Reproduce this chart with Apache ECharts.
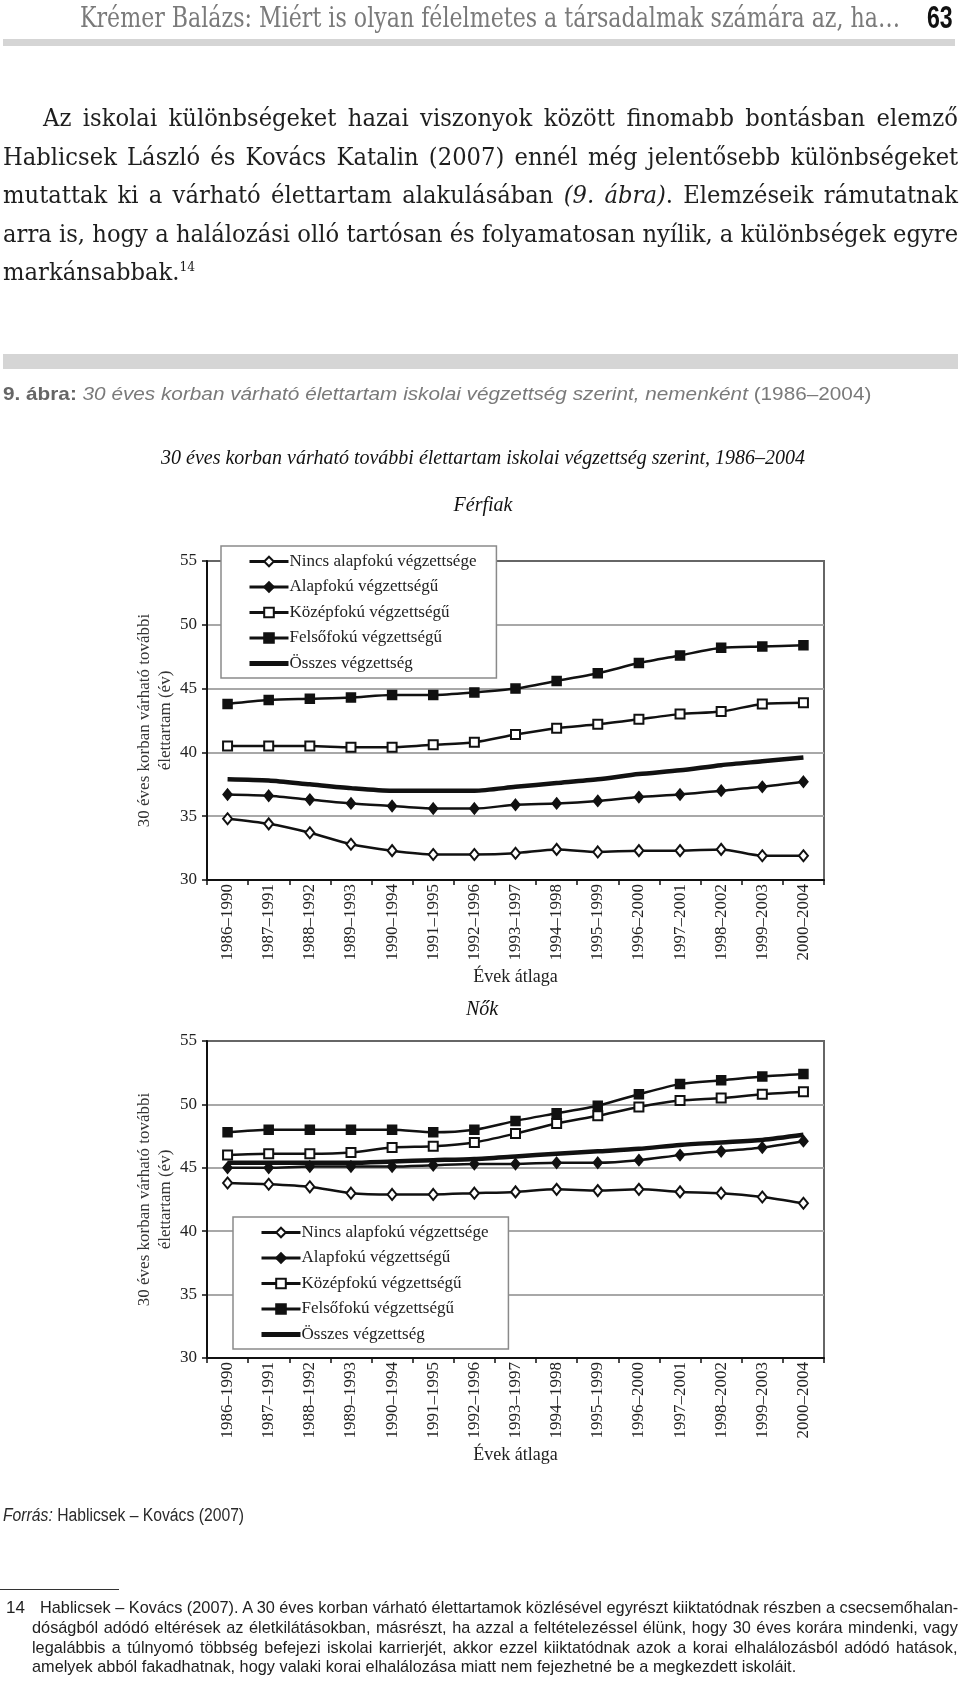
<!DOCTYPE html>
<html>
<head>
<meta charset="utf-8">
<script src="https://cdn.jsdelivr.net/npm/echarts@6/dist/echarts.min.js"></script>
<style>
  html, body { margin: 0; padding: 0; background: #fff; }
  #page { position: relative; width: 960px; height: 1681px; overflow: hidden; }
  #chart { position: absolute; left: 0; top: 0; width: 960px; height: 1681px; }
  .t { position: absolute; white-space: nowrap; display: inline-block; transform-origin: 0 50%; z-index: 2; }
  .bar { position: absolute; background: #d5d5d5; z-index: 2; }
  .par { font-family: 'DejaVu Serif'; font-size: 24px; line-height: 29px; color: #1e1e1e; }
  .fn { font-family: 'Liberation Sans Narrow', 'Liberation Sans'; font-size: 17px; line-height: 19px; color: #1e1e1e; }
</style>
</head>
<body>
<div id="page">
  <div id="chart"></div>

  <div class="t" id="hdr" style="left:80px;top:1px;font-family:'DejaVu Serif';font-size:28px;line-height:33px;color:#7a7a7a">Krémer Balázs: Miért is olyan félelmetes a társadalmak számára az, ha…</div>
  <div class="t" id="pg" style="left:927px;top:1px;font-family:'Liberation Sans Narrow','Liberation Sans';font-weight:bold;font-size:32px;line-height:33px;color:#111">63</div>
  <div class="bar" style="left:3px;top:39px;width:952px;height:7px"></div>

  <div class="t par" id="p1" style="left:43px;top:104px">Az iskolai különbségeket hazai viszonyok között finomabb bontásban elemző</div>
  <div class="t par" id="p2" style="left:3px;top:143px">Hablicsek László és Kovács Katalin (2007) ennél még jelentősebb különbségeket</div>
  <div class="t par" id="p3" style="left:3px;top:181px">mutattak ki a várható élettartam alakulásában <i>(9. ábra)</i>. Elemzéseik rámutatnak</div>
  <div class="t par" id="p4" style="left:3px;top:220px">arra is, hogy a halálozási olló tartósan és folyamatosan nyílik, a különbségek egyre</div>
  <div class="t par" id="p5" style="left:3px;top:258px">markánsabbak.<sup style="font-size:13px;line-height:0">14</sup></div>

  <div class="bar" style="left:3px;top:354px;width:955px;height:15px"></div>
  <div class="t" id="cap" style="left:3px;top:382px;font-family:'Liberation Sans Narrow','Liberation Sans';font-size:19px;line-height:23px;color:#7a7a7a"><b style="color:#666">9. ábra:</b> <i>30 éves korban várható élettartam iskolai végzettség szerint, nemenként</i> (1986–2004)</div>

  <div class="t" id="src" style="left:3px;top:1505px;font-family:'Liberation Sans Narrow','Liberation Sans';font-size:18px;line-height:21px;color:#2a2a2a"><i>Forrás:</i> Hablicsek – Kovács (2007)</div>

  <div style="position:absolute;left:0;top:1589px;width:119px;height:1px;background:#333"></div>
  <div class="t fn" style="left:6px;top:1598px">14</div>
  <div class="t fn" id="f1" style="left:40px;top:1598px">Hablicsek – Kovács (2007). A 30 éves korban várható élettartamok közlésével egyrészt kiiktatódnak részben a csecsemőhalan-</div>
  <div class="t fn" id="f2" style="left:32px;top:1618px">dóságból adódó eltérések az életkilátásokban, másrészt, ha azzal a feltételezéssel élünk, hogy 30 éves korára mindenki, vagy</div>
  <div class="t fn" id="f3" style="left:32px;top:1638px">legalábbis a túlnyomó többség befejezi iskolai karrierjét, akkor ezzel kiiktatódnak azok a korai elhalálozásból adódó hatások,</div>
  <div class="t fn" id="f4" style="left:32px;top:1657px">amelyek abból fakadhatnak, hogy valaki korai elhalálozása miatt nem fejezhetné be a megkezdett iskoláit.</div>
</div>

<script>
// kategóriák (évek átlaga)
var years = ['1986–1990', '1987–1991', '1988–1992', '1989–1993', '1990–1994',
  '1991–1995', '1992–1996', '1993–1997', '1994–1998', '1995–1999',
  '1996–2000', '1997–2001', '1998–2002', '1999–2003', '2000–2004'];

var seriesNames = ['Nincs alapfokú végzettsége', 'Alapfokú végzettségű',
  'Középfokú végzettségű', 'Felsőfokú végzettségű', 'Összes végzettség'];

// Férfiak
var ferfiNincs = [34.8, 34.4, 33.7, 32.8, 32.3, 32.0, 32.0, 32.1, 32.4, 32.2, 32.3, 32.3, 32.4, 31.9, 31.9];
var ferfiAlap = [36.7, 36.6, 36.3, 36.0, 35.8, 35.6, 35.6, 35.9, 36.0, 36.2, 36.5, 36.7, 37.0, 37.3, 37.7];
var ferfiKozep = [40.5, 40.5, 40.5, 40.4, 40.4, 40.6, 40.8, 41.4, 41.9, 42.2, 42.6, 43.0, 43.2, 43.8, 43.9];
var ferfiFelso = [43.8, 44.1, 44.2, 44.3, 44.5, 44.5, 44.7, 45.0, 45.6, 46.2, 47.0, 47.6, 48.2, 48.3, 48.4];
var ferfiOsszes = [37.9, 37.8, 37.5, 37.2, 37.0, 37.0, 37.0, 37.3, 37.6, 37.9, 38.3, 38.6, 39.0, 39.3, 39.6];

// Nők
var noNincs = [43.8, 43.7, 43.5, 43.0, 42.9, 42.9, 43.0, 43.1, 43.3, 43.2, 43.3, 43.1, 43.0, 42.7, 42.2];
var noAlap = [45.0, 45.0, 45.1, 45.1, 45.1, 45.2, 45.3, 45.3, 45.4, 45.4, 45.6, 46.0, 46.3, 46.6, 47.1];
var noKozep = [46.0, 46.1, 46.1, 46.2, 46.6, 46.7, 47.0, 47.7, 48.5, 49.1, 49.8, 50.3, 50.5, 50.8, 51.0];
var noFelso = [47.8, 48.0, 48.0, 48.0, 48.0, 47.8, 48.0, 48.7, 49.3, 49.9, 50.8, 51.6, 51.9, 52.2, 52.4];
var noOsszes = [45.4, 45.4, 45.4, 45.4, 45.5, 45.6, 45.7, 45.9, 46.1, 46.3, 46.5, 46.8, 47.0, 47.2, 47.6];

var yTicks = { min: 30, max: 55, interval: 5 };

var serif = 'Liberation Serif';
var ink = '#111';

// szövegsorok illesztése (sorkizárt)
function fitGroup(items) {
  var s = 1;
  items.forEach(function (o) {
    if (o.justify) s = Math.min(s, o.width / o.el.offsetWidth);
  });
  items.forEach(function (o) {
    var w = o.el.offsetWidth * s;
    var n = (o.el.textContent.match(/ /g) || []).length;
    if (o.justify && n) o.el.style.wordSpacing = ((o.width - w) / s / n) + 'px';
    o.el.style.transform = 'scaleX(' + s + ')';
  });
}
function fitExact(id, width) {
  var el = document.getElementById(id);
  el.style.transform = 'scaleX(' + (width / el.offsetWidth) + ')';
}

fitGroup([
  { el: document.getElementById('p1'), width: 915, justify: true },
  { el: document.getElementById('p2'), width: 955, justify: true },
  { el: document.getElementById('p3'), width: 955, justify: true },
  { el: document.getElementById('p4'), width: 955, justify: true },
  { el: document.getElementById('p5'), width: 0, justify: false }
]);
fitGroup([
  { el: document.getElementById('f1'), width: 918, justify: true },
  { el: document.getElementById('f2'), width: 926, justify: true },
  { el: document.getElementById('f3'), width: 926, justify: true },
  { el: document.getElementById('f4'), width: 0, justify: false }
]);
fitExact('hdr', 820);
fitExact('pg', 26);
fitExact('cap', 868);
fitExact('src', 241);

function makeSeries(idx, arrs) {
  var symbols = ['emptyDiamond', 'diamond', 'emptyRect', 'rect', 'none'];
  var sizes = [[9, 11], [9, 11], 9, 9, 0];
  return arrs.map(function (data, i) {
    return {
      name: seriesNames[i],
      type: 'line',
      xAxisIndex: idx,
      yAxisIndex: idx,
      data: data,
      smooth: 0.25,
      symbol: symbols[i],
      symbolSize: sizes[i],
      showSymbol: i < 4,
      color: ink,
      itemStyle: { color: ink, borderColor: ink, borderWidth: 1.5 },
      lineStyle: { color: ink, width: i === 4 ? 4.5 : 2.5 },
      emphasis: { disabled: true },
      z: i === 4 ? 2 : 3
    };
  });
}

function xAxis(idx) {
  return {
    type: 'category',
    gridIndex: idx,
    data: years,
    boundaryGap: true,
    axisLine: { show: true, lineStyle: { color: ink, width: 2 } },
    axisTick: { show: true, length: 5, lineStyle: { color: ink, width: 1.5 } },
    axisLabel: { rotate: 90, interval: 0, margin: 4, fontFamily: serif, fontSize: 17, color: '#222' },
    name: 'Évek átlaga',
    nameLocation: 'middle',
    nameGap: 88,
    nameTextStyle: { fontFamily: serif, fontSize: 18, color: '#222' },
    splitLine: { show: false }
  };
}

function yAxis(idx) {
  return {
    type: 'value',
    gridIndex: idx,
    min: yTicks.min,
    max: yTicks.max,
    interval: yTicks.interval,
    axisLine: { show: true, lineStyle: { color: ink, width: 2 } },
    axisTick: { show: true, length: 5, lineStyle: { color: ink, width: 1.5 } },
    axisLabel: { margin: 10, fontFamily: serif, fontSize: 17, color: '#222' },
    splitLine: { show: true, showMinLine: false, showMaxLine: false, lineStyle: { color: '#a8a8a8', width: 2 } },
    name: '30 éves korban várható további\nélettartam (év)',
    nameLocation: 'middle',
    nameRotate: 90,
    nameGap: 31,
    nameMoveOverlap: false,
    nameTextStyle: { fontFamily: serif, fontSize: 17, lineHeight: 21, color: '#333' }
  };
}

// az "Összes" sor jelén nincs jelölő, csak vastag vonal
var legendData = seriesNames.map(function (n, i) {
  return i === 4 ? { name: n, itemStyle: { opacity: 0 }, lineStyle: { width: 5 } } : n;
});

function legend(left, top) {
  return {
    orient: 'vertical',
    left: left,
    top: top,
    data: legendData,
    itemWidth: 39,
    itemHeight: 12,
    itemGap: 8.5,
    padding: [7, 20, 6, 26],
    backgroundColor: '#fff',
    borderColor: '#8a8a8a',
    borderWidth: 1.5,
    borderRadius: 0,
    selectedMode: false,
    lineStyle: { width: 3 },
    textStyle: { fontFamily: serif, fontSize: 17, color: '#222', padding: [0, 0, 0, -4] },
    z: 10
  };
}

var chart = echarts.init(document.getElementById('chart'), null, { renderer: 'canvas' });

chart.setOption({
  animation: false,
  backgroundColor: 'transparent',
  graphic: [
    {
      type: 'text', x: 483, y: 459,
      style: {
        text: '30 éves korban várható további élettartam iskolai végzettség szerint, 1986–2004',
        font: 'italic 20px "Liberation Serif"', fill: '#111', align: 'center', verticalAlign: 'middle'
      }
    },
    {
      type: 'text', x: 483, y: 506,
      style: { text: 'Férfiak', font: 'italic 20px "Liberation Serif"', fill: '#111', align: 'center', verticalAlign: 'middle' }
    },
    {
      type: 'text', x: 482, y: 1010,
      style: { text: 'Nők', font: 'italic 20px "Liberation Serif"', fill: '#111', align: 'center', verticalAlign: 'middle' }
    }
  ],
  grid: [
    { left: 207, top: 561, width: 617, height: 319, show: true, borderColor: '#666', borderWidth: 2, backgroundColor: 'transparent' },
    { left: 207, top: 1041, width: 617, height: 317, show: true, borderColor: '#666', borderWidth: 2, backgroundColor: 'transparent' }
  ],
  legend: [legend(221, 546), legend(233, 1217)],
  xAxis: [xAxis(0), xAxis(1)],
  yAxis: [yAxis(0), yAxis(1)],
  series: makeSeries(0, [ferfiNincs, ferfiAlap, ferfiKozep, ferfiFelso, ferfiOsszes])
    .concat(makeSeries(1, [noNincs, noAlap, noKozep, noFelso, noOsszes]))
});
</script>
</body>
</html>
